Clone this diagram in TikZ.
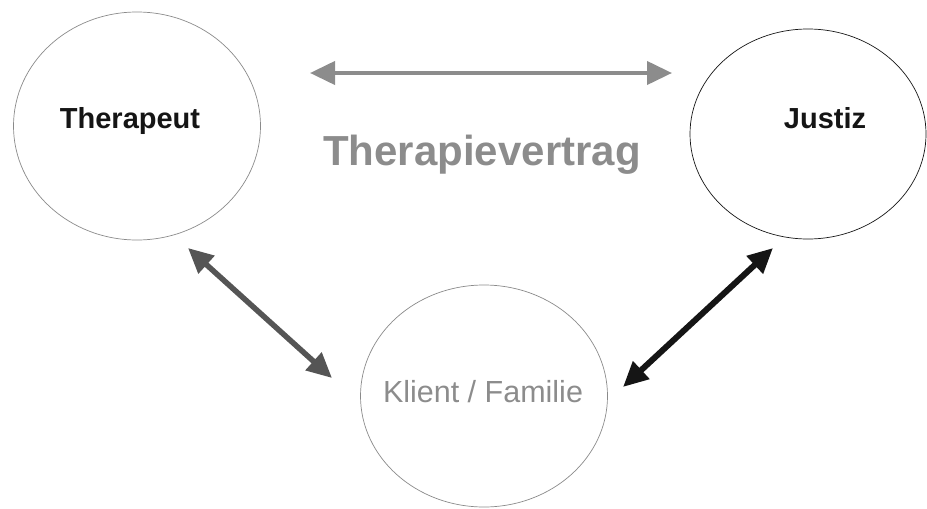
\documentclass[tikz,border=0pt]{standalone}
\usepackage{fontspec}
\setmainfont{Liberation Sans}
\usepackage{tikz}
\usetikzlibrary{shapes,arrows.meta}

\definecolor{rimgray}{HTML}{8A8A8A}
\definecolor{palegray}{HTML}{8C8C8C}
\definecolor{darkgray}{HTML}{555555}
\definecolor{inkblack}{HTML}{151515}

\tikzset{
  party/.style={draw,ellipse,inner sep=0pt,line width=0.7bp},
  partyname/.style={anchor=base,inner sep=0pt,font=\fontsize{29bp}{34bp}\selectfont},
  bond/.style={{Triangle[length=25bp,width=23bp]}-{Triangle[length=25bp,width=23bp]}}
}

\begin{document}
\begin{tikzpicture}
\useasboundingbox (0bp,0bp) rectangle (927bp,-509bp);

\node (Ther) at (137bp,-126bp)[party,draw=rimgray,minimum width=247bp,minimum height=228bp] {};
\node (Just) at (808bp,-134bp)[party,draw=inkblack,minimum width=236bp,minimum height=210bp] {};
\node (Kli) at (484bp,-396bp)[party,draw=rimgray,minimum width=247bp,minimum height=222bp] {};

\node (TherT) at (130bp,-128bp)[partyname,text=inkblack,font=\fontsize{29bp}{34bp}\selectfont\bfseries] {Therapeut};
\node (JustT) at (825bp,-128bp)[partyname,text=inkblack,font=\fontsize{29bp}{34bp}\selectfont\bfseries] {Justiz};
\node (KliT) at (483bp,-402bp)[partyname,text=palegray,font=\fontsize{30.5bp}{36bp}\selectfont] {Klient / Familie};
\node (Vertrag) at (482bp,-165bp)[partyname,text=palegray,font=\fontsize{42bp}{48bp}\selectfont\bfseries] {Therapievertrag};

\coordinate (VL) at (310bp,-73bp);
\coordinate (VR) at (672bp,-73bp);
\coordinate (TL) at (188bp,-248bp);
\coordinate (KL) at (332bp,-378bp);
\coordinate (JR) at (773bp,-248bp);
\coordinate (KR) at (623bp,-387bp);

\draw [bond,line width=4bp,draw=palegray,fill=palegray] (VL) -- (VR);
\draw [bond,line width=5.5bp,draw=darkgray,fill=darkgray] (TL) -- (KL);
\draw [bond,line width=6bp,draw=inkblack,fill=inkblack] (JR) -- (KR);
\end{tikzpicture}
\end{document}
